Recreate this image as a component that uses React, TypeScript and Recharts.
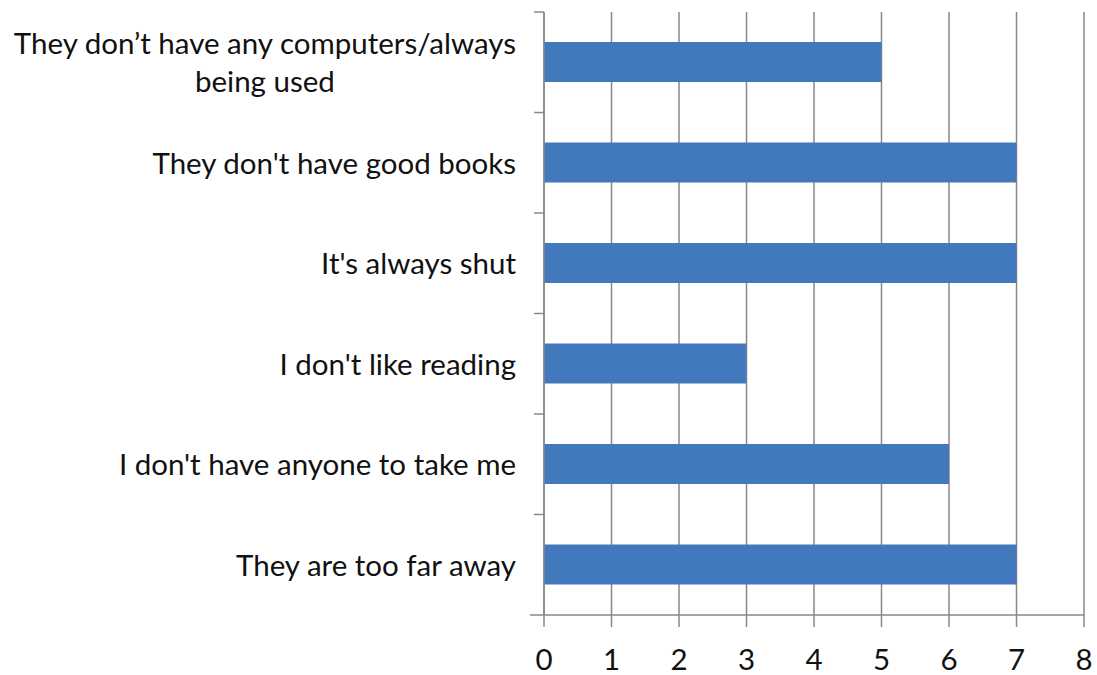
import { Bar, BarChart, CartesianGrid, XAxis, YAxis } from "recharts";

const categories = [
  "They don’t have any computers/always\nbeing used",
  "They don't have good books",
  "It's always shut",
  "I don't like reading",
  "I don't have anyone to take me",
  "They are too far away",
];
const counts = [5, 7, 7, 3, 6, 7];
const xTicks = [0, 1, 2, 3, 4, 5, 6, 7, 8];

const data = categories.map((label, i) => ({ label, count: counts[i] }));

const FONT = "Lato, 'Open Sans', sans-serif";
const AXIS_GREY = "#888888";
const BAND = 603 / categories.length;

function CategoryTick(props: any) {
  const { x, y, payload, index } = props;
  const lines = String(payload.value).split("\n");
  const last = index === categories.length - 1;
  // recharts hands us x = axis line - 8
  const axisX = x + 8;
  const right = axisX - 28;
  return (
    <g>
      <line x1={axisX - 10} y1={y - BAND / 2} x2={axisX} y2={y - BAND / 2} stroke={AXIS_GREY} strokeWidth={1.5} />
      {last && (
        <line x1={axisX - 14} y1={y + BAND / 2} x2={axisX} y2={y + BAND / 2} stroke={AXIS_GREY} strokeWidth={1.5} />
      )}
      <foreignObject x={0} y={y - BAND / 2} width={right} height={BAND}>
        <div style={{ width: right, height: BAND, display: "flex", alignItems: "center", justifyContent: "flex-end",
          fontFamily: FONT, fontSize: 29.5, lineHeight: "38px", color: "#111" }}>
          <div style={{ textAlign: "center", whiteSpace: "nowrap" }}>
            {lines.map((ln, i) => (<div key={i}>{ln}</div>))}
          </div>
        </div>
      </foreignObject>
    </g>
  );
}

export default function App() {
  return (
    <div style={{ position: "absolute", left: 0, top: 0, width: 1097, height: 675, background: "#fff" }}>
      <BarChart width={1097} height={675} data={data} layout="vertical"
        margin={{ top: 12, right: 13, bottom: 0, left: 0 }} barCategoryGap={0}>
        <CartesianGrid horizontal={false} vertical stroke={AXIS_GREY} strokeWidth={1.5} />
        <XAxis type="number" domain={[0, 8]} ticks={xTicks} interval={0} height={60}
          axisLine={{ stroke: AXIS_GREY, strokeWidth: 1.5 }} tickLine={{ stroke: AXIS_GREY, strokeWidth: 1.5 }}
          tickSize={12} tick={{ fill: "#111", fontSize: 29.5, fontFamily: FONT, dy: 20 }} />
        <YAxis type="category" dataKey="label" width={544} interval={0}
          axisLine={{ stroke: AXIS_GREY, strokeWidth: 1.5 }} tickLine={false} tick={<CategoryTick />} />
        <Bar dataKey="count" fill="#4279bd" barSize={40} isAnimationActive={false} />
      </BarChart>
    </div>
  );
}
